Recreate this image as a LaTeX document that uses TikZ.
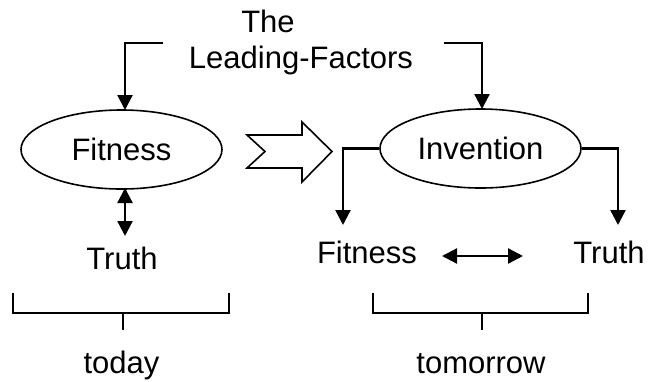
\documentclass[tikz,border=0pt]{standalone}
\usepackage{fontspec}
\setmainfont{Liberation Sans}
\usetikzlibrary{arrows.meta,shapes.geometric}
\tikzset{
  lbl/.style={font=\fontsize{31}{36}\selectfont, inner sep=0pt, anchor=base},
  oval/.style={ellipse, draw, line width=1.6pt, minimum width=201pt, minimum height=79pt, inner sep=0pt, font=\fontsize{31}{36}\selectfont},
  arr/.style={line width=2.3pt, -{Triangle[length=15pt,width=15pt]}},
  darr/.style={line width=2.3pt, {Triangle[length=15pt,width=15pt]}-{Triangle[length=15pt,width=15pt]}},
  brk/.style={line width=1.8pt},
  hollow/.style={draw, line width=1.6pt, line join=miter, fill=white}
}
\begin{document}
\begin{tikzpicture}[x=1pt,y=-1pt]
\useasboundingbox (0,0) rectangle (648,381);
% top label
\node[lbl] (the) at (268,32) {The};
\node[lbl] (lf) at (301,68) {Leading-Factors};
% ellipses
\node[oval] (fit) at (121.5,149.5) {Fitness};
\node[oval] (inv) at (480.5,148.5) {Invention};
% lower labels
\node[lbl] (truthL) at (122,269) {Truth};
\node[lbl] (fitR) at (367,263) {Fitness};
\node[lbl] (truthR) at (609,263) {Truth};
\node[lbl] (today) at (121.5,373) {today};
\node[lbl] (tomorrow) at (481,373) {tomorrow};
% coordinates
\coordinate (lfa) at (163,43);
\coordinate (lfb) at (444,43);
\coordinate (dvt) at (125,188);
\coordinate (dvb) at (125,236);
\coordinate (fitArr) at (343,225);
\coordinate (truthArr) at (618,225);
\coordinate (dhl) at (442,256);
\coordinate (dhr) at (523,256);
% top connectors
\draw[arr] (lfa) -- (125,43) -- (125,110);
\draw[arr] (lfb) -- (482,43) -- (482,109);
% invention branches
\draw[arr] (inv.west) -- (fitArr |- inv.west) -- (fitArr);
\draw[arr] (inv.east) -- (truthArr |- inv.east) -- (truthArr);
% double arrows
\draw[darr] (dvt) -- (dvb);
\draw[darr] (dhl) -- (dhr);
% hollow arrow
\path[hollow] (247,135) -- (302,135) -- (302,122) -- (332,151.5) -- (302,182) -- (302,168) -- (247,168) -- (265,151.5) -- cycle;
% brackets
\draw[brk] (13,293) -- (13,313) -- (229,313) -- (229,293);
\draw[brk] (123,313) -- (123,330);
\draw[brk] (373,293) -- (373,313) -- (588,313) -- (588,293);
\draw[brk] (482,313) -- (482,330);
\end{tikzpicture}
\end{document}
